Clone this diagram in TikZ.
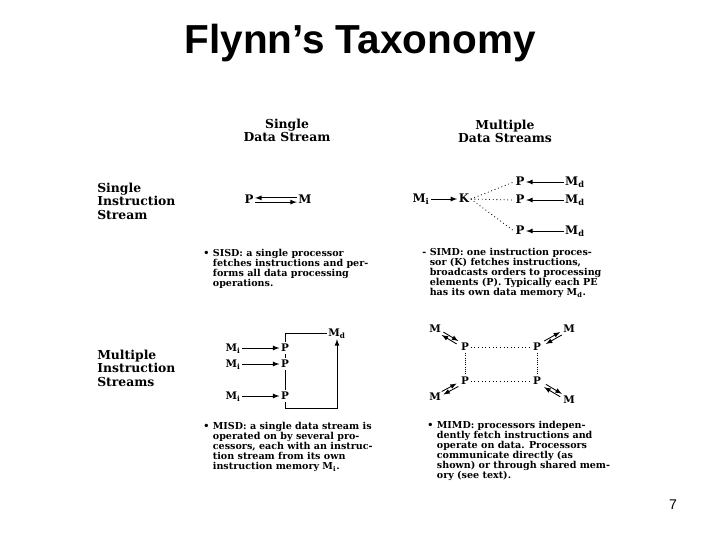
\documentclass[tikz,border=0pt]{standalone}
\usepackage{fontspec}
\setmainfont{DejaVu Serif}
\newfontfamily\headfont{Liberation Sans}
\usetikzlibrary{calc}

\begin{document}
\begin{tikzpicture}[x=0.025cm, y=-0.025cm, >=latex,
    hdr/.style={font=\bfseries\fontsize{8.8}{9.2}\selectfont, align=center},
    side/.style={font=\bfseries\fontsize{8.8}{9.6}\selectfont, align=left, anchor=west, inner sep=0pt},
    desc/.style={font=\bfseries\fontsize{6.8}{6.7}\selectfont, anchor=west, inner sep=0pt},
    big/.style={font=\bfseries\fontsize{8.4}{8.4}\selectfont, inner sep=1pt, text height=6pt, text depth=1.2pt},
    small/.style={font=\bfseries\fontsize{7.4}{7.4}\selectfont, inner sep=1pt, text height=5.4pt, text depth=1pt},
    bus/.style={dotted, line width=0.6pt},
    wire/.style={line width=0.6pt}]
  \useasboundingbox (0,0) rectangle (720,540);
  \node[font=\headfont\bfseries\fontsize{28.8}{32}\selectfont] (title) at (360,43) {Flynn’s Taxonomy};
  \node[font=\headfont\fontsize{10}{12}\selectfont] (page) at (673,505) {7};

  \node[hdr] (sds) at (287,130) {Single\\Data Stream};
  \node[hdr] (mds) at (505,131) {Multiple\\Data Streams};
  \node[side] (sis) at (97,201) {Single\\Instruction\\Stream};
  \node[side] (mis) at (97,368) {Multiple\\Instruction\\Streams};

  \node[big] (p) at (249,200) {P};
  \node[big] (m) at (305,200) {M};
  \draw[wire,->] ([yshift=1.5pt]m.west) -- ([yshift=1.5pt]p.east);
  \draw[wire,->] ([yshift=-1.5pt]p.east) -- ([yshift=-1.5pt]m.west);

  \node[big] (mi) at (421,199) {M\textsubscript{i}};
  \node[big] (k) at (464,199) {K};
  \node[big] (p1) at (520,182) {P};
  \node[big] (p2) at (520,200) {P};
  \node[big] (p3) at (520,231) {P};
  \node[big] (md1) at (575,182) {M\textsubscript{d}};
  \node[big] (md2) at (575,200) {M\textsubscript{d}};
  \node[big] (md3) at (575,231) {M\textsubscript{d}};
  \draw[wire,->] (mi) -- (k);
  \foreach \i in {1,2,3} {
    \draw[bus] (k.east) -- (p\i.west);
    \draw[wire,->] (md\i) -- (p\i);
  }

  \node[small] (i1) at (233,348) {M\textsubscript{i}};
  \node[small] (i2) at (233,364) {M\textsubscript{i}};
  \node[small] (i3) at (233,396) {M\textsubscript{i}};
  \node[small] (q1) at (285,348) {P};
  \node[small] (q2) at (285,364) {P};
  \node[small] (q3) at (285,396) {P};
  \node[small] (mdm) at (337,333) {M\textsubscript{d}};
  \coordinate (loop) at (337,408);
  \foreach \i in {1,2,3}
    \draw[wire,->] (i\i) -- (q\i);
  \draw[wire] (q1.north) |- (mdm.west);
  \draw[wire] (q1) -- (q2) -- (q3);
  \draw[wire,->] (q3.south) |- (loop) -- (mdm.south);

  \node[small] (ptl) at (465,347) {P};
  \node[small] (ptr) at (537,347) {P};
  \node[small] (pbl) at (465,381) {P};
  \node[small] (pbr) at (537,381) {P};
  \node[small] (mtl) at (435,329) {M};
  \node[small] (mtr) at (569,329) {M};
  \node[small] (mbl) at (435,397) {M};
  \node[small] (mbr) at (569,400) {M};
  \draw[bus] (ptl) -- (ptr);
  \draw[bus] (pbl) -- (pbr);
  \draw[bus, densely dotted] (ptl) -- (pbl);
  \draw[bus, densely dotted] (ptr) -- (pbr);
  \foreach \m/\p in {mtl/ptl, mtr/ptr, mbl/pbl, mbr/pbr} {
    \draw[wire,->] ($(\p)!0.25!(\m)!1.2pt!90:(\m)$) -- ($(\m)!0.25!(\p)!1.2pt!-90:(\p)$);
    \draw[wire,<-] ($(\p)!0.25!(\m)!1.2pt!-90:(\m)$) -- ($(\m)!0.25!(\p)!1.2pt!90:(\p)$);
  }

  \node[desc] (sisd) at (203,269) {\begin{tabular}{@{}l@{\hspace{2.5pt}}l@{}}
    \textbullet & SISD: a single processor\\
    & fetches instructions and per-\\
    & forms all data processing\\
    & operations.\end{tabular}};
  \node[desc] (simd) at (422,273) {\begin{tabular}{@{}l@{\hspace{2.5pt}}l@{}}
    - & SIMD: one instruction proces-\\
    & sor (K) fetches instructions,\\
    & broadcasts orders to processing\\
    & elements (P). Typically each PE\\
    & has its own data memory M\textsubscript{d}.\end{tabular}};
  \node[desc] (misd) at (203,447) {\begin{tabular}{@{}l@{\hspace{2.5pt}}l@{}}
    \textbullet & MISD: a single data stream is\\
    & operated on by several pro-\\
    & cessors, each with an instruc-\\
    & tion stream from its own\\
    & instruction memory M\textsubscript{i}.\end{tabular}};
  \node[desc] (mimd) at (427,451) {\begin{tabular}{@{}l@{\hspace{2.5pt}}l@{}}
    \textbullet & MIMD: processors indepen-\\
    & dently fetch instructions and\\
    & operate on data. Processors\\
    & communicate directly (as\\
    & shown) or through shared mem-\\
    & ory (see text).\end{tabular}};
\end{tikzpicture}
\end{document}
